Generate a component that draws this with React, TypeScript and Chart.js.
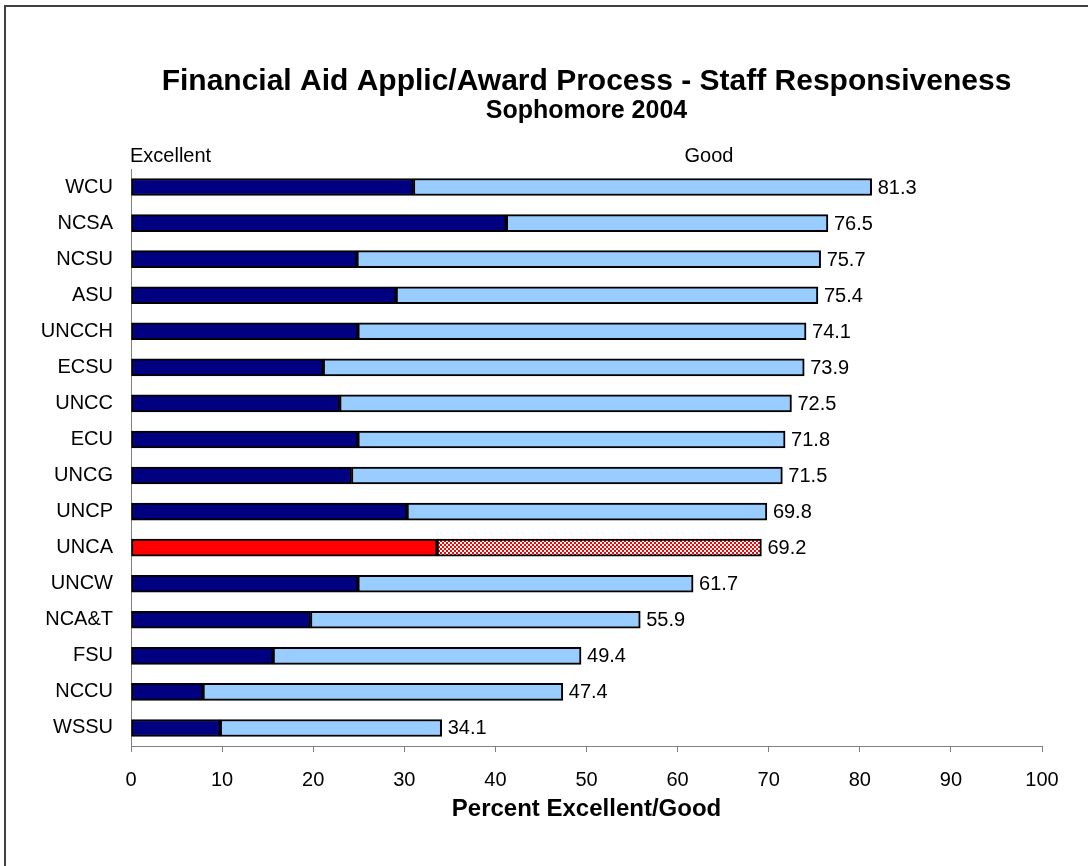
import React, { useEffect, useRef } from "react";
import { Chart, registerables } from "chart.js";

Chart.register(...registerables);

const categories = ["WCU", "NCSA", "NCSU", "ASU", "UNCCH", "ECSU", "UNCC", "ECU", "UNCG", "UNCP", "UNCA", "UNCW", "NCA&T", "FSU", "NCCU", "WSSU"];
const totals = [81.3, 76.5, 75.7, 75.4, 74.1, 73.9, 72.5, 71.8, 71.5, 69.8, 69.2, 61.7, 55.9, 49.4, 47.4, 34.1];
const excellent = [31.0, 41.2, 24.8, 29.1, 24.9, 21.1, 22.9, 24.9, 24.2, 30.3, 33.6, 24.9, 19.7, 15.6, 7.9, 9.8];
const good = totals.map((t, i) => Math.round((t - excellent[i]) * 10) / 10);
const xTicks = [0, 10, 20, 30, 40, 50, 60, 70, 80, 90, 100];
const highlight = "UNCA";

const FONT = '"Liberation Sans", Arial, sans-serif';

function makePattern(): CanvasPattern | string {
  const c = document.createElement("canvas");
  c.width = 4;
  c.height = 4;
  const g = c.getContext("2d");
  if (!g) return "#ff0000";
  g.fillStyle = "#ffffff";
  g.fillRect(0, 0, 4, 4);
  g.fillStyle = "#ff0000";
  g.fillRect(0, 0, 2, 2);
  g.fillRect(2, 2, 2, 2);
  const p = g.createPattern(c, "repeat");
  return p || "#ff0000";
}

export default function App() {
  const ref = useRef<HTMLCanvasElement | null>(null);

  useEffect(() => {
    if (!ref.current) return;
    const pattern = makePattern();
    const exColors = categories.map((c) => (c === highlight ? "#ff0000" : "#000080"));
    const goodColors = categories.map((c) => (c === highlight ? pattern : "#99ccff"));

    const decor = {
      id: "decor",
      beforeDraw(chart: any) {
        const ctx = chart.ctx;
        ctx.save();
        ctx.fillStyle = "#ffffff";
        ctx.fillRect(0, 0, chart.width, chart.height);
        ctx.strokeStyle = "#404040";
        ctx.lineWidth = 2;
        ctx.strokeRect(5, 6, 3000, 3000);
        ctx.restore();
      },
      afterDraw(chart: any) {
        const ctx = chart.ctx;
        const ca = chart.chartArea;
        const cx = (ca.left + ca.right) / 2;
        ctx.save();
        ctx.fillStyle = "#000000";
        ctx.textAlign = "center";
        ctx.textBaseline = "middle";
        ctx.font = `bold 30px ${FONT}`;
        ctx.fillText("Financial Aid Applic/Award Process - Staff Responsiveness", cx, 82);
        ctx.font = `bold 25px ${FONT}`;
        ctx.fillText("Sophomore 2004", cx, 111);
        ctx.font = `bold 24px ${FONT}`;
        ctx.fillText("Percent Excellent/Good", cx, 809);
        ctx.font = `20px ${FONT}`;
        ctx.textAlign = "left";
        ctx.fillText("Excellent", 130, 156);
        ctx.textAlign = "center";
        ctx.fillText("Good", 709, 156);

        // totals labels
        const meta = chart.getDatasetMeta(1);
        ctx.textAlign = "left";
        meta.data.forEach((bar: any, i: number) => {
          ctx.fillText(totals[i].toFixed(1), bar.x + 6, bar.y + 1);
        });
        ctx.restore();
      },
    };

    const chart = new Chart(ref.current, {
      type: "bar",
      data: {
        labels: categories,
        datasets: [
          {
            label: "Excellent",
            data: excellent,
            backgroundColor: exColors,
            borderColor: "#000000",
            borderWidth: 2,
            borderSkipped: false,
            barThickness: 17,
          },
          {
            label: "Good",
            data: good,
            backgroundColor: goodColors as any,
            borderColor: "#000000",
            borderWidth: 2,
            borderSkipped: false,
            barThickness: 17,
          },
        ],
      },
      options: {
        indexAxis: "y",
        responsive: false,
        animation: false,
        layout: { padding: { top: 169, right: 46, left: 0, bottom: 0 } },
        plugins: {
          legend: { display: false },
          title: { display: false },
          tooltip: { enabled: false },
        },
        scales: {
          x: {
            stacked: true,
            min: 0,
            max: 100,
            afterBuildTicks(scale: any) {
              scale.ticks = xTicks.map((v) => ({ value: v }));
            },
            afterFit(scale: any) {
              scale.height = 120;
            },
            grid: {
              display: true,
              drawOnChartArea: false,
              drawTicks: true,
              tickLength: 6,
              color: "#808080",
            },
            border: { display: true, color: "#808080", width: 1 },
            ticks: {
              padding: 16,
              color: "#000000",
              font: { family: FONT, size: 20 },
              maxRotation: 0,
            },
          },
          y: {
            stacked: true,
            afterFit(scale: any) {
              scale.width = 131;
            },
            grid: { display: false, drawTicks: false, tickLength: 0 },
            border: { display: true, color: "#808080", width: 1 },
            ticks: {
              padding: 18,
              color: "#000000",
              font: { family: FONT, size: 20 },
            },
          },
        },
      },
      plugins: [decor],
    });

    return () => chart.destroy();
  }, []);

  return (
    <div style={{ position: "fixed", left: 0, top: 0, width: 1088, height: 866, background: "#fff" }}>
      <canvas ref={ref} width={1088} height={866} style={{ display: "block" }} />
    </div>
  );
}
